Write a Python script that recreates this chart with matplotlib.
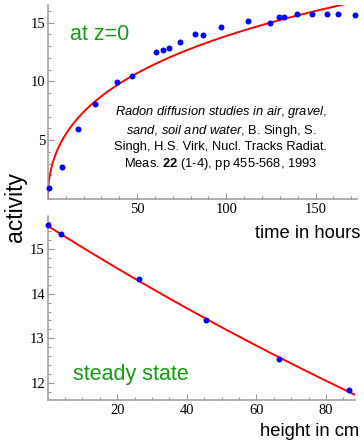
import numpy as np
from matplotlib import pyplot as plt
from matplotlib.ticker import MultipleLocator

plt.rcParams['font.family'] = 'Liberation Sans'
plt.rcParams['mathtext.fontset'] = 'custom'
plt.rcParams['mathtext.rm'] = 'Liberation Sans'
plt.rcParams['mathtext.it'] = 'Liberation Sans:italic'
plt.rcParams['mathtext.bf'] = 'Liberation Sans:bold'

# activity vs time at z=0
time_h = [0.7, 7.8, 16.7, 26.2, 39.0, 47.4, 60.8, 64.5, 67.7, 73.9, 82.4, 87.1,
          96.8, 112.2, 124.7, 129.3, 132.1, 139.4, 148.2, 156.4, 162.5, 172.0]
act_time = [0.9, 2.7, 5.94, 8.07, 9.92, 10.49, 12.53, 12.7, 12.85, 13.33, 14.04, 13.98,
            14.63, 15.17, 14.95, 15.49, 15.49, 15.74, 15.74, 15.74, 15.74, 15.66]
# theory curve a*log(1 + b*sqrt(t))
curve_a = 20.0
curve_b = 0.1

# steady state activity vs height
height_cm = [0.0, 3.85, 26.2, 45.5, 66.4, 86.5]
act_height = [15.53, 15.33, 14.32, 13.40, 12.53, 11.85]

green = '#169a16'
grey = '#9a9a9a'
serif = 'Liberation Serif'

fig = plt.figure(figsize=(3.64, 4.41), dpi=100)
ax1 = fig.add_axes([0.1313, 0.5488, 0.8486, 0.4399])
ax2 = fig.add_axes([0.1310, 0.0930, 0.8440, 0.4172])

t = np.linspace(0, 173, 400)
ax1.plot(t, curve_a * np.log(1 + curve_b * np.sqrt(t)), color='red', lw=1.4, zorder=2)
ax1.plot(time_h, act_time, 'o', color='#0000ff', ms=4.3, mec='none', zorder=3, clip_on=False)
ax1.set_xlim(0, 173)
ax1.set_ylim(0, 16.5)
ax1.set_xticks([50, 100, 150])
ax1.set_yticks([5, 10, 15])
ax1.xaxis.set_minor_locator(MultipleLocator(10))
ax1.yaxis.set_minor_locator(MultipleLocator(1))
ax1.text(0.072, 0.85, 'at z=0', transform=ax1.transAxes, color=green, fontsize=15.5, va='center')
cite = ('$\\mathit{Radon\\ diffusion\\ studies\\ in\\ air{,}\\ gravel{,}}$\n'
        '$\\mathit{sand{,}\\ soil\\ and\\ water}$, B. Singh, S.\n'
        'Singh, H.S. Virk, Nucl. Tracks Radiat.\n'
        'Meas. $\\mathbf{22}$ (1-4), pp 455-568, 1993')
fig.text(221 / 364, 1 - 138 / 441, cite, ha='center', va='center', fontsize=9.3,
         multialignment='center', linespacing=1.25)

xs = np.linspace(0, 88.3, 200)
k, c = np.polyfit(height_cm, np.log(act_height), 1)
ax2.plot(xs, np.exp(c + k * xs), color='red', lw=1.4, zorder=2)
ax2.plot(height_cm, act_height, 'o', color='#0000ff', ms=4.3, mec='none', zorder=3, clip_on=False)
ax2.set_xlim(0, 88.3)
ax2.set_ylim(11.62, 15.74)
ax2.set_xticks([20, 40, 60, 80])
ax2.set_yticks([12, 13, 14, 15])
ax2.xaxis.set_minor_locator(MultipleLocator(5))
ax2.yaxis.set_minor_locator(MultipleLocator(0.2))
ax2.text(0.081, 0.136, 'steady state', transform=ax2.transAxes, color=green, fontsize=15.5, va='center')

for ax in (ax1, ax2):
    ax.set_facecolor('none')
    for side in ('top', 'right'):
        ax.spines[side].set_visible(False)
    for side in ('left', 'bottom'):
        ax.spines[side].set_color(grey)
        ax.spines[side].set_linewidth(1.1)
    ax.tick_params(which='both', direction='in', color=grey, width=0.8)
    ax.tick_params(which='major', length=4, labelsize=10.5)
    ax.tick_params(which='minor', length=2.5)
    ax.tick_params(axis='x', pad=3)
    ax.tick_params(axis='y', pad=2)
    for lab in ax.get_xticklabels() + ax.get_yticklabels():
        lab.set_fontfamily(serif)

fig.text(360 / 364, 1 - 233 / 441, 'time in hours', ha='right', va='center', fontsize=13.2)
fig.text(359 / 364, 1 - 432 / 441, 'height in cm', ha='right', va='center', fontsize=13.2)
fig.text(16 / 364, 1 - 207 / 441, 'activity', rotation=90, ha='center', va='center', fontsize=16.5)

fig.savefig('out.png', dpi=100)
